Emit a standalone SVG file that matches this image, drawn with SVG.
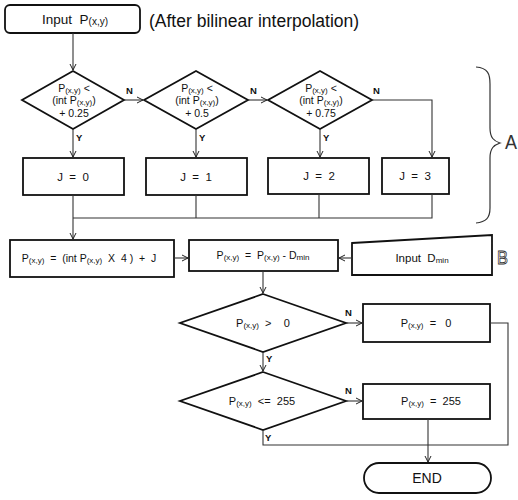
<svg xmlns="http://www.w3.org/2000/svg" width="518" height="500" viewBox="0 0 518 500">
<defs>
<marker id="arr" markerWidth="8" markerHeight="8" refX="7" refY="4" orient="auto" markerUnits="userSpaceOnUse">
<path d="M1,1 L7,4 L1,7" fill="none" stroke="#222" stroke-width="1"/>
</marker>
<style>
.shape{fill:#fff;stroke:#111;stroke-width:1.8}
.conn{fill:none;stroke:#333;stroke-width:1.1}
.t{font-family:"Liberation Sans",Arial,sans-serif;fill:#111;text-anchor:middle;white-space:pre}
.s{font-size:8px}
.lbl{font-family:"Liberation Sans",Arial,sans-serif;font-size:9.5px;font-weight:bold;fill:#111}
</style>
</defs>
<rect width="518" height="500" fill="#fff"/>

<g id="input">
<rect class="shape" x="5" y="5" width="135" height="28" rx="5"/>
<text class="t" x="75" y="24" font-size="13.5">Input  P<tspan font-size="10" dy="1">(x,y)</tspan></text>
</g>
<text id="note" x="149" y="27" font-family="Liberation Sans,Arial,sans-serif" font-size="17.5" fill="#111">(After bilinear interpolation)</text>

<g id="d1">
<polygon class="shape" points="73,71 124,100 73,129 22,100"/>
<text class="t" x="74" y="92" font-size="10.5">P<tspan class="s" dy="1">(x,y)</tspan><tspan dy="-1"> &lt;</tspan></text>
<text class="t" x="74" y="104" font-size="10.5">(int P<tspan class="s" dy="1">(x,y)</tspan><tspan dy="-1">)</tspan></text>
<text class="t" x="74" y="117" font-size="10.5">+ 0.25</text>
</g>
<g id="d2">
<polygon class="shape" points="196,71 248,100 196,129 144,100"/>
<text class="t" x="197" y="92" font-size="10.5">P<tspan class="s" dy="1">(x,y)</tspan><tspan dy="-1"> &lt;</tspan></text>
<text class="t" x="197" y="104" font-size="10.5">(int P<tspan class="s" dy="1">(x,y)</tspan><tspan dy="-1">)</tspan></text>
<text class="t" x="197" y="117" font-size="10.5">+ 0.5</text>
</g>
<g id="d3">
<polygon class="shape" points="320,71 372,100 320,129 268,100"/>
<text class="t" x="321" y="92" font-size="10.5">P<tspan class="s" dy="1">(x,y)</tspan><tspan dy="-1"> &lt;</tspan></text>
<text class="t" x="321" y="104" font-size="10.5">(int P<tspan class="s" dy="1">(x,y)</tspan><tspan dy="-1">)</tspan></text>
<text class="t" x="321" y="117" font-size="10.5">+ 0.75</text>
</g>

<g id="j0"><rect class="shape" x="23" y="158" width="101" height="37"/><text class="t" x="73" y="181" font-size="11.5">J  =  0</text></g>
<g id="j1"><rect class="shape" x="146" y="158" width="101" height="37"/><text class="t" x="196" y="181" font-size="11.5">J  =  1</text></g>
<g id="j2"><rect class="shape" x="268" y="158" width="101" height="36"/><text class="t" x="319" y="180" font-size="11.5">J  =  2</text></g>
<g id="j3"><rect class="shape" x="382" y="158" width="67" height="36"/><text class="t" x="415" y="180" font-size="11.5">J  =  3</text></g>

<g id="brace">
<path d="M476,67 C488,68 490,74 490,84 L490,128 C490,138 494,141 500,143 C494,145 490,148 490,158 L490,208 C490,218 486,222 476,223" fill="none" stroke="#333" stroke-width="1.2"/>
<text x="505" y="149" font-family="Liberation Sans,Arial,sans-serif" font-size="20" fill="#333" textLength="12" lengthAdjust="spacingAndGlyphs">A</text>
</g>

<g id="calc">
<rect class="shape" x="10" y="240" width="164" height="37"/>
<text class="t" x="89" y="262" font-size="10.5">P<tspan class="s" dy="1">(x,y)</tspan><tspan dy="-1">  =  (int P</tspan><tspan class="s" dy="1">(x,y)</tspan><tspan dy="-1">  X  4 )  +  J</tspan></text>
</g>
<g id="sub">
<rect class="shape" x="189" y="240" width="149" height="31"/>
<text class="t" x="263" y="259" font-size="10.5">P<tspan class="s" dy="1">(x,y)</tspan><tspan dy="-1">  =  P</tspan><tspan class="s" dy="1">(x,y)</tspan><tspan dy="-1"> - D</tspan><tspan class="s" dy="1">min</tspan></text>
</g>
<g id="dmin">
<polygon class="shape" points="352,243 492,235 492,275 352,275"/>
<text class="t" x="422" y="262" font-size="11.5">Input  D<tspan class="s" dy="1">min</tspan></text>
<text x="497" y="264" font-family="Liberation Sans,Arial,sans-serif" font-size="19" fill="#fff" stroke="#333" stroke-width="0.8" textLength="11" lengthAdjust="spacingAndGlyphs">B</text>
</g>

<g id="dA">
<polygon class="shape" points="263,294 346,323 263,352 180,323"/>
<text class="t" x="263" y="327" font-size="11">P<tspan class="s" dy="1">(x,y)</tspan><tspan dy="-1">  &gt;    0</tspan></text>
</g>
<g id="p0">
<rect class="shape" x="363" y="304" width="127" height="38"/>
<text class="t" x="426" y="327" font-size="11">P<tspan class="s" dy="1">(x,y)</tspan><tspan dy="-1">  =   0</tspan></text>
</g>
<g id="dB">
<polygon class="shape" points="263,372 346,401 263,430 180,401"/>
<text class="t" x="262" y="405" font-size="11">P<tspan class="s" dy="1">(x,y)</tspan><tspan dy="-1">  &lt;=  255</tspan></text>
</g>
<g id="p255">
<rect class="shape" x="363" y="384" width="127" height="35"/>
<text class="t" x="431" y="405" font-size="11">P<tspan class="s" dy="1">(x,y)</tspan><tspan dy="-1">  =  255</tspan></text>
</g>
<g id="end">
<rect class="shape" x="364" y="463" width="127" height="30" rx="15"/>
<text class="t" x="427" y="483" font-size="14">END</text>
</g>

<g id="connectors">
<path class="conn" d="M73,33 V70" marker-end="url(#arr)"/>
<path class="conn" d="M124,100 H143" marker-end="url(#arr)"/>
<path class="conn" d="M248,100 H267" marker-end="url(#arr)"/>
<path class="conn" d="M372,100 H432 V157" marker-end="url(#arr)"/>
<path class="conn" d="M73,129 V157" marker-end="url(#arr)"/>
<path class="conn" d="M196,129 V157" marker-end="url(#arr)"/>
<path class="conn" d="M320,129 V157" marker-end="url(#arr)"/>
<path class="conn" d="M196,195 V218 M319,194 V218 M432,194 V218 H73"/>
<path class="conn" d="M73,195 V239" marker-end="url(#arr)"/>
<path class="conn" d="M174,258 H188" marker-end="url(#arr)"/>
<path class="conn" d="M352,258 H339" marker-end="url(#arr)"/>
<path class="conn" d="M263,271 V293" marker-end="url(#arr)"/>
<path class="conn" d="M346,323 H362" marker-end="url(#arr)"/>
<path class="conn" d="M263,352 V371" marker-end="url(#arr)"/>
<path class="conn" d="M346,401 H362" marker-end="url(#arr)"/>
<path class="conn" d="M490,323 H508 V445 H263 V430"/>
<path class="conn" d="M428,419 V462" marker-end="url(#arr)"/>
<text class="lbl" x="126" y="94">N</text>
<text class="lbl" x="250" y="94">N</text>
<text class="lbl" x="373" y="94">N</text>
<text class="lbl" x="76" y="141">Y</text>
<text class="lbl" x="199" y="141">Y</text>
<text class="lbl" x="323" y="141">Y</text>
<text class="lbl" x="345" y="316">N</text>
<text class="lbl" x="266" y="362">Y</text>
<text class="lbl" x="345" y="394">N</text>
<text class="lbl" x="265" y="441">Y</text>
</g>
</svg>
